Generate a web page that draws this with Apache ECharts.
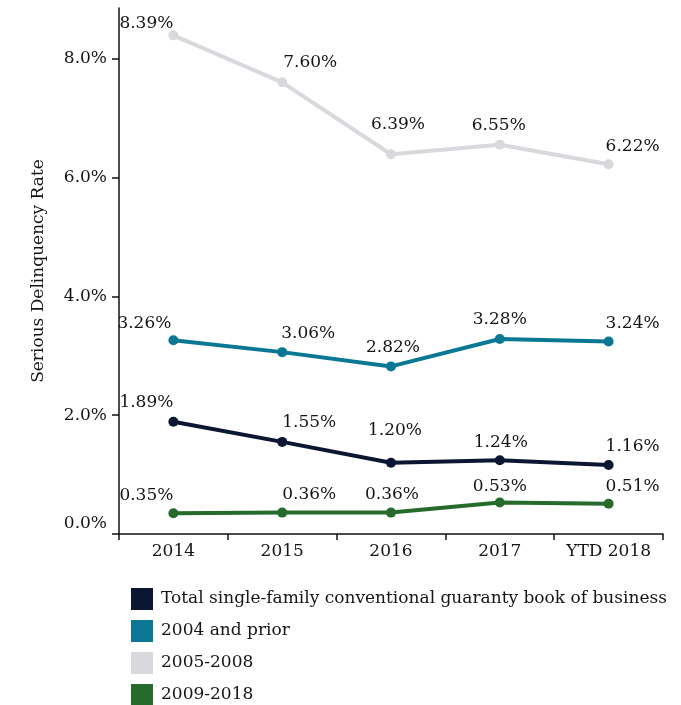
<!DOCTYPE html>
<html>
<head>
<meta charset="utf-8">
<script src="https://cdn.jsdelivr.net/npm/echarts@6/dist/echarts.min.js"></script>
<style>
  html, body { margin: 0; padding: 0; background: #ffffff; }
  #chart { width: 681px; height: 705px; }
</style>
</head>
<body>
<div id="chart"></div>
<script>
// Serious delinquency rate by loan vintage, single-family conventional book
const years = ['2014', '2015', '2016', '2017', 'YTD 2018'];
const seriesNames = [
  'Total single-family conventional guaranty book of business',
  '2004 and prior',
  '2005-2008',
  '2009-2018'
];
const totalBook   = [1.89, 1.55, 1.20, 1.24, 1.16];
const prior2004   = [3.26, 3.06, 2.82, 3.28, 3.24];
const vintage0508 = [8.39, 7.60, 6.39, 6.55, 6.22];
const vintage0918 = [0.35, 0.36, 0.36, 0.53, 0.51];
const yTickValues = [0, 2, 4, 6, 8];

// Presentation settings
const FONT = 'DejaVu Serif';
const FS = 17;
const TEXT = '#151515';
const colors = ['#0b1632', '#0a7895', '#d9d8dd', '#256c2c'];
// label centre offsets (px) from each point, per series
const labelShift = [
  [[-27, -19], [27, -19], [4, -32], [1, -18], [24, -18]],
  [[-29, -17], [26, -19], [2, -19], [0, -19], [24, -18]],
  [[-27, -12], [28, -20], [7, -30], [-1, -19], [24, -18]],
  [[-27, -18], [27, -18], [1, -18], [0, -16], [24, -17]]
];

const chart = echarts.init(document.getElementById('chart'), null, { renderer: 'canvas' });

function buildSeries(name, values, idx) {
  return {
    name: name,
    type: 'line',
    data: values.map((v, i) => ({
      value: v,
      label: { offset: labelShift[idx][i] }
    })),
    color: colors[idx],
    symbol: 'circle',
    symbolSize: 10,
    lineStyle: { width: 4, color: colors[idx] },
    itemStyle: { color: colors[idx] },
    z: 3,
    label: {
      show: true,
      position: 'inside',
      fontFamily: FONT,
      fontSize: FS,
      color: TEXT,
      formatter: p => p.value.toFixed(2) + '%'
    },
    emphasis: { disabled: true },
    animation: false
  };
}

const option = {
  backgroundColor: '#ffffff',
  animation: false,
  textStyle: { fontFamily: FONT },
  grid: { left: 119, right: 18, top: 8, bottom: 171, containLabel: false },
  legend: {
    orient: 'vertical',
    left: 131,
    top: 588,
    height: 125,
    padding: 0,
    itemWidth: 22,
    itemHeight: 22,
    itemGap: 10,
    icon: 'rect',
    selectedMode: false,
    data: seriesNames,
    textStyle: { fontFamily: FONT, fontSize: FS, color: TEXT, padding: [0, 0, 0, 3] }
  },
  xAxis: {
    type: 'category',
    data: years,
    boundaryGap: true,
    axisLine: { lineStyle: { color: '#111', width: 1.5 } },
    axisTick: { show: true, interval: 0, length: 6, lineStyle: { color: '#111', width: 1.5 } },
    axisLabel: { interval: 0, fontFamily: FONT, fontSize: FS, color: TEXT, margin: 9 },
    splitLine: { show: false }
  },
  yAxis: {
    type: 'value',
    min: 0,
    max: 8.85,
    name: 'Serious Delinquency Rate',
    nameLocation: 'middle',
    nameGap: 72,
    nameRotate: 90,
    nameTextStyle: { fontFamily: FONT, fontSize: FS, color: TEXT },
    axisLine: { show: true, lineStyle: { color: '#111', width: 1.5 } },
    axisTick: { show: true, length: 7, customValues: yTickValues, lineStyle: { color: '#111', width: 1.5 } },
    axisLabel: {
      customValues: yTickValues,
      fontFamily: FONT,
      fontSize: FS,
      color: TEXT,
      margin: 12,
      formatter: v => v === 0 ? '{zero|0.0%}' : v.toFixed(1) + '%',
      rich: { zero: { fontFamily: FONT, fontSize: FS, color: TEXT, padding: [0, 0, 20, 0] } }
    },
    splitLine: { show: false }
  },
  series: [
    buildSeries(seriesNames[0], totalBook, 0),
    buildSeries(seriesNames[1], prior2004, 1),
    buildSeries(seriesNames[2], vintage0508, 2),
    buildSeries(seriesNames[3], vintage0918, 3)
  ]
};

chart.setOption(option);
</script>
</body>
</html>
